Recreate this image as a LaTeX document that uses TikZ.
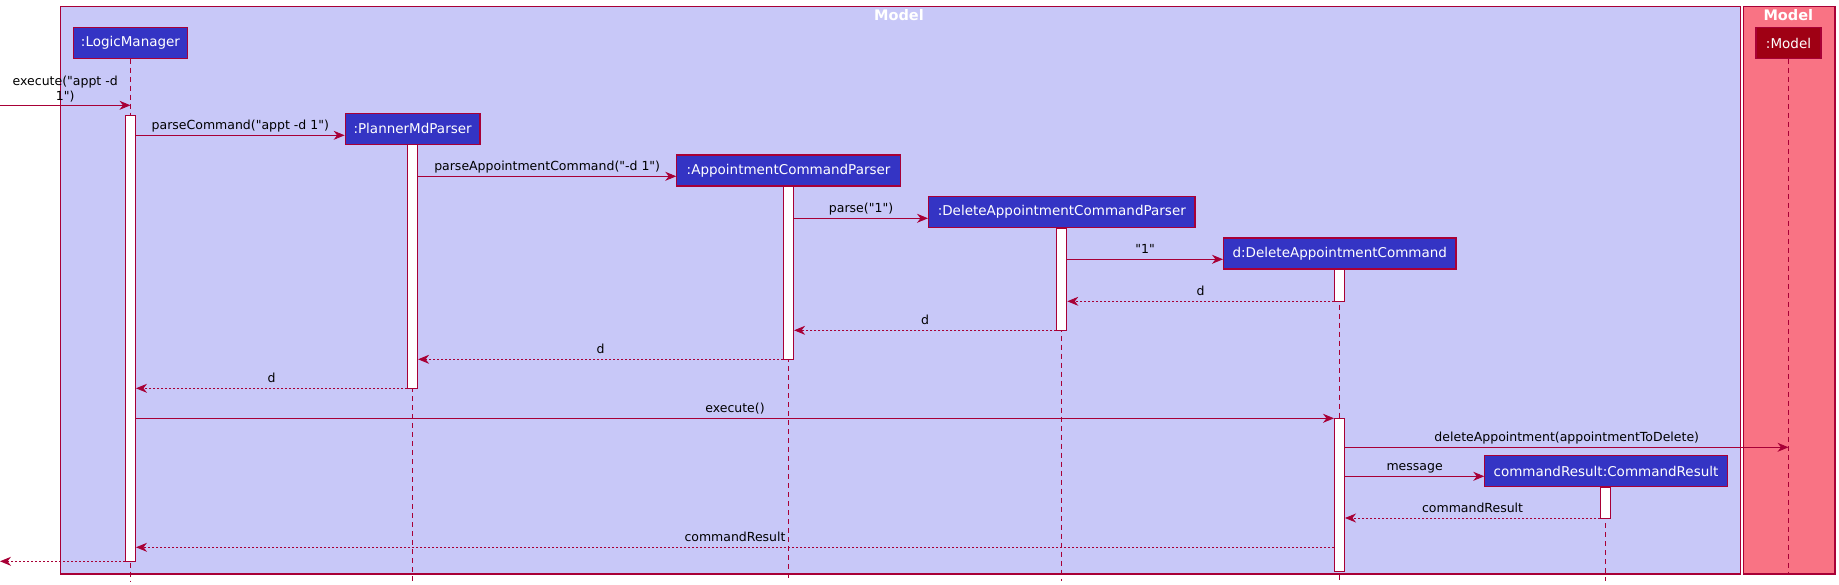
\documentclass[tikz,border=0pt]{standalone}
\usepackage{fontspec}
\setmainfont{DejaVu Sans}[Ligatures=TeXOff]
\usetikzlibrary{arrows.meta}
\definecolor{lc}{HTML}{A80036}
\definecolor{frameblue}{HTML}{C8C8F8}
\definecolor{framered}{HTML}{F97384}
\definecolor{boxblue}{HTML}{3434C4}
\definecolor{boxred}{HTML}{9F0014}
\begin{document}
\begin{tikzpicture}[x=1pt,y=-1pt,
  frm/.style={draw=lc, line width=1.2pt, inner sep=0pt, anchor=north west},
  participant/.style={draw=lc, line width=1.2pt, fill=boxblue, text=white,
    font=\fontsize{13.5}{16}\selectfont, minimum height=31pt, inner sep=0pt},
  bar/.style={draw=lc, line width=1pt, fill=white, minimum width=10pt, inner sep=0pt, anchor=north},
  lifeline/.style={draw=lc, line width=0.9pt, dash pattern=on 5pt off 4pt},
  msg/.style={draw=lc, line width=0.9pt, -{Stealth[length=11pt,width=9pt,inset=3.5pt]}},
  ret/.style={msg, dash pattern=on 2pt off 2pt},
  lbl/.style={font=\fontsize{12.5}{15}\selectfont, text=black, midway, anchor=south,
    inner sep=2.5pt, text height=9.5pt, text depth=3pt},
  frametitle/.style={font=\bfseries\fontsize{14.5}{17}\selectfont, text=white}]
\useasboundingbox (0,0) rectangle (1839,585);

% frames
\node[frm, fill=frameblue, minimum width=1679.7pt, minimum height=567.3pt] (mainframe) at (59.8,6) {};
\node[frm, fill=framered, minimum width=91.8pt, minimum height=567.3pt] (modelframe) at (1742.5,6) {};
\node[frametitle] (maintitle) at (899,15.5) {Model};
\node[frametitle] (modeltitle) at (1788.3,15.5) {Model};

% message levels
\coordinate (in) at (0,105.3);
\coordinate (y1) at (0,135.3);
\coordinate (y2) at (0,176.3);
\coordinate (y3) at (0,218.3);
\coordinate (y4) at (0,259.3);
\coordinate (y5) at (0,301.3);
\coordinate (y6) at (0,330.3);
\coordinate (y7) at (0,359.3);
\coordinate (y8) at (0,388.3);
\coordinate (y9) at (0,418.3);
\coordinate (y10) at (0,447.3);
\coordinate (y11) at (0,476.3);
\coordinate (y12) at (0,518);
\coordinate (y13) at (0,547.3);
\coordinate (out) at (0,561.3);
\coordinate (lend) at (0,581);
\coordinate (mend) at (0,575);

% lifeline anchors
\coordinate (lmx) at (130.5,58.7);
\coordinate (pmpx) at (412.6,144.3);
\coordinate (acpx) at (788.6,186);
\coordinate (dacpx) at (1061.8,227.7);
\coordinate (dacx) at (1339.5,268.7);
\coordinate (crx) at (1605.6,487.3);
\coordinate (modelx) at (1788.3,58.7);

% lifelines
\draw[lifeline] (lmx) -- (lmx |- lend);
\draw[lifeline] (pmpx) -- (pmpx |- lend);
\draw[lifeline] (acpx) -- (acpx |- lend);
\draw[lifeline] (dacpx) -- (dacpx |- lend);
\draw[lifeline] (dacx) -- (dacx |- lend);
\draw[lifeline] (crx) -- (crx |- lend);
\draw[lifeline] (modelx) -- (modelx |- mend);

% activation bars
\node[bar, minimum height=446pt] (lmbar) at (130.5,115.3) {};
\node[bar, minimum height=244pt] (pmpbar) at (412.6,144.3) {};
\node[bar, minimum height=173.3pt] (acpbar) at (788.6,186) {};
\node[bar, minimum height=102.6pt] (dacpbar) at (1061.8,227.7) {};
\node[bar, minimum height=32.6pt] (dacbara) at (1339.5,268.7) {};
\node[bar, minimum height=152.4pt] (dacbarb) at (1339.5,418.3) {};
\node[bar, minimum height=30.7pt] (crbar) at (1605.6,487.3) {};

% participants
\node[participant, minimum width=114.4pt] (lm) at (130.5,43) {:LogicManager};
\node[participant, minimum width=134.7pt] (pmp) at (412.6,128.8) {:PlannerMdParser};
\node[participant, minimum width=223.5pt] (acp) at (788.6,170.5) {:AppointmentCommandParser};
\node[participant, minimum width=266.4pt] (dacp) at (1061.8,211.9) {:DeleteAppointmentCommandParser};
\node[participant, minimum width=232.4pt] (dac) at (1339.8,253.5) {d:DeleteAppointmentCommand};
\node[participant, minimum width=242.3pt] (cr) at (1606,471.2) {commandResult:CommandResult};
\node[participant, fill=boxred, minimum width=65pt] (model) at (1788.5,43) {:Model};

% messages
\draw[msg] (in) -- (lm.south |- in)
  node[lbl, align=center, text height=, text depth=] {execute("appt -d\\1")};
\draw[msg] (lmbar.east |- y1) -- (pmp.west |- y1) node[lbl] {parseCommand("appt -d 1")};
\draw[msg] (pmpbar.east |- y2) -- (acp.west |- y2) node[lbl] {parseAppointmentCommand("-d 1")};
\draw[msg] (acpbar.east |- y3) -- (dacp.west |- y3) node[lbl] {parse("1")};
\draw[msg] (dacpbar.east |- y4) -- (dac.west |- y4) node[lbl] {"1"};
\draw[ret] (dacbara.west |- y5) -- (dacpbar.east |- y5) node[lbl] {d};
\draw[ret] (dacpbar.west |- y6) -- (acpbar.east |- y6) node[lbl] {d};
\draw[ret] (acpbar.west |- y7) -- (pmpbar.east |- y7) node[lbl] {d};
\draw[ret] (pmpbar.west |- y8) -- (lmbar.east |- y8) node[lbl] {d};
\draw[msg] (lmbar.east |- y9) -- (dacbarb.west |- y9) node[lbl] {execute()};
\draw[msg] (dacbarb.east |- y10) -- (model.south |- y10) node[lbl] {deleteAppointment(appointmentToDelete)};
\draw[msg] (dacbarb.east |- y11) -- (cr.west |- y11) node[lbl] {message};
\draw[ret] (crbar.west |- y12) -- (dacbarb.east |- y12) node[lbl] {commandResult};
\draw[ret] (dacbarb.west |- y13) -- (lmbar.east |- y13) node[lbl] {commandResult};
\draw[ret] (lmbar.west |- out) -- (out);
\end{tikzpicture}
\end{document}
